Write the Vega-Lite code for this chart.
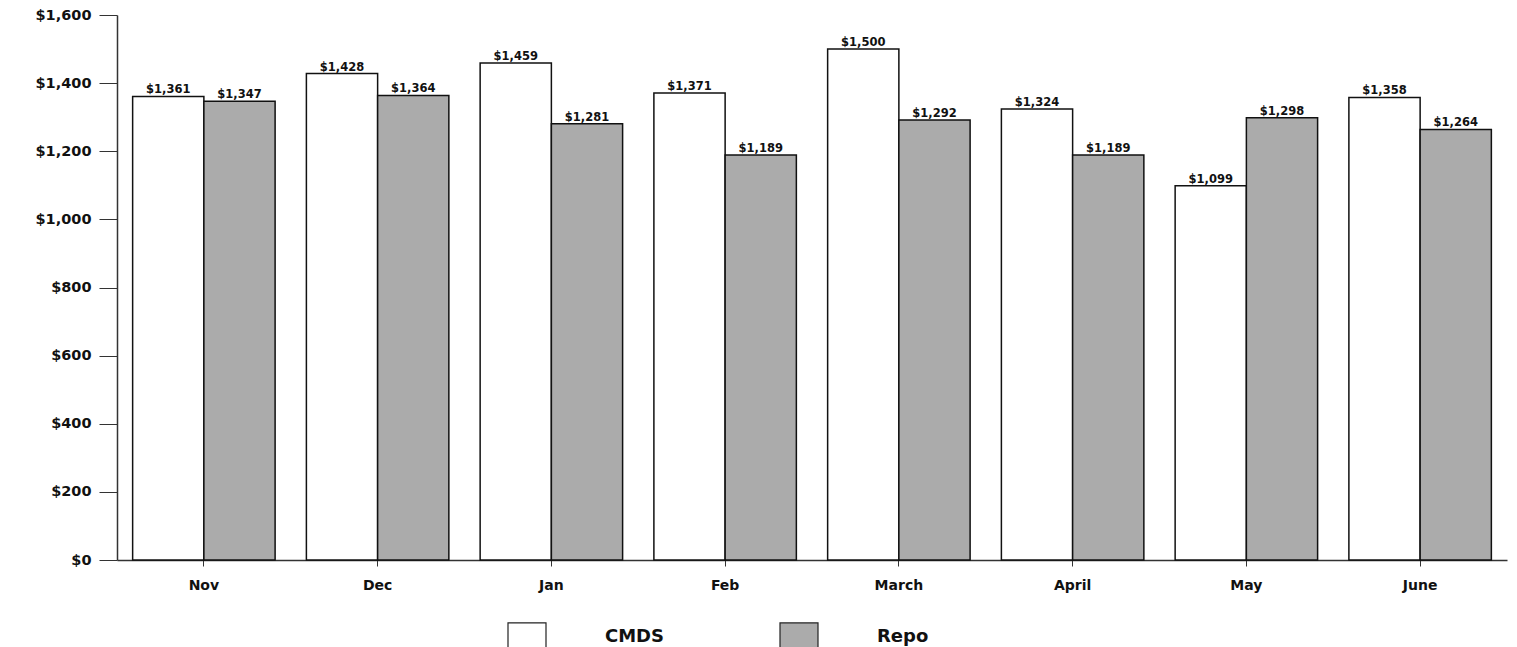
{
  "$schema": "https://vega.github.io/schema/vega-lite/v6.json",
  "width": 1390,
  "height": 545,
  "autosize": "none",
  "padding": {"left": 117, "top": 15, "right": 10, "bottom": 87},
  "background": "white",
  "config": {"view": {"stroke": null}, "font": "DejaVu Sans"},
  "data": {"values": [
    {"month": "Nov", "series": "CMDS", "value": 1361},
    {"month": "Nov", "series": "Repo", "value": 1347},
    {"month": "Dec", "series": "CMDS", "value": 1428},
    {"month": "Dec", "series": "Repo", "value": 1364},
    {"month": "Jan", "series": "CMDS", "value": 1459},
    {"month": "Jan", "series": "Repo", "value": 1281},
    {"month": "Feb", "series": "CMDS", "value": 1371},
    {"month": "Feb", "series": "Repo", "value": 1189},
    {"month": "March", "series": "CMDS", "value": 1500},
    {"month": "March", "series": "Repo", "value": 1292},
    {"month": "April", "series": "CMDS", "value": 1324},
    {"month": "April", "series": "Repo", "value": 1189},
    {"month": "May", "series": "CMDS", "value": 1099},
    {"month": "May", "series": "Repo", "value": 1298},
    {"month": "June", "series": "CMDS", "value": 1358},
    {"month": "June", "series": "Repo", "value": 1264}
  ]},
  "encoding": {
    "x": {
      "field": "month", "type": "nominal", "sort": null,
      "scale": {"paddingInner": 0.18, "paddingOuter": 0.09},
      "axis": {
        "title": null, "labelAngle": 0, "labelFont": "DejaVu Sans", "labelFontWeight": "bold",
        "labelFontSize": 14, "labelColor": "#111", "labelPadding": 12, "tickSize": 6,
        "domainColor": "#333", "tickColor": "#333", "domainWidth": 1.5
      }
    },
    "xOffset": {"field": "series", "type": "nominal", "sort": ["CMDS", "Repo"], "scale": {"paddingInner": 0, "paddingOuter": 0}},
    "y": {"field": "value", "type": "quantitative"}
  },
  "layer": [
    {
      "mark": {"type": "bar", "stroke": "#111", "strokeWidth": 1.5},
      "encoding": {
        "y": {
          "field": "value", "type": "quantitative",
          "scale": {"domain": [0, 1600], "nice": false},
          "axis": {
            "title": null, "values": [0, 200, 400, 600, 800, 1000, 1200, 1400, 1600],
            "format": "$,.0f", "grid": false, "tickSize": 18, "labelPadding": 8,
            "labelFont": "DejaVu Sans", "labelFontWeight": "bold", "labelFontSize": 14.5,
            "labelColor": "#111", "domainColor": "#333", "tickColor": "#333", "domainWidth": 1.5
          }
        },
        "fill": {
          "field": "series", "type": "nominal",
          "scale": {"domain": ["CMDS", "Repo"], "range": ["#ffffff", "#ababab"]},
          "legend": {
            "title": null, "orient": "none", "direction": "horizontal",
            "legendX": 390, "legendY": 602,
            "symbolType": "M-1,-0.75H1V0.75H-1Z", "symbolSize": 1444,
            "symbolStrokeColor": "#222", "symbolStrokeWidth": 1.2,
            "labelFont": "DejaVu Sans", "labelFontWeight": "bold", "labelFontSize": 18,
            "labelColor": "#111", "labelOffset": 58, "columnPadding": 112, "labelLimit": 200
          }
        }
      }
    },
    {
      "mark": {"type": "text", "baseline": "bottom", "dy": -1, "font": "DejaVu Sans", "fontWeight": "bold", "fontSize": 11.5, "color": "#111"},
      "encoding": {
        "text": {"field": "value", "type": "quantitative", "format": "$,.0f"}
      }
    }
  ]
}
